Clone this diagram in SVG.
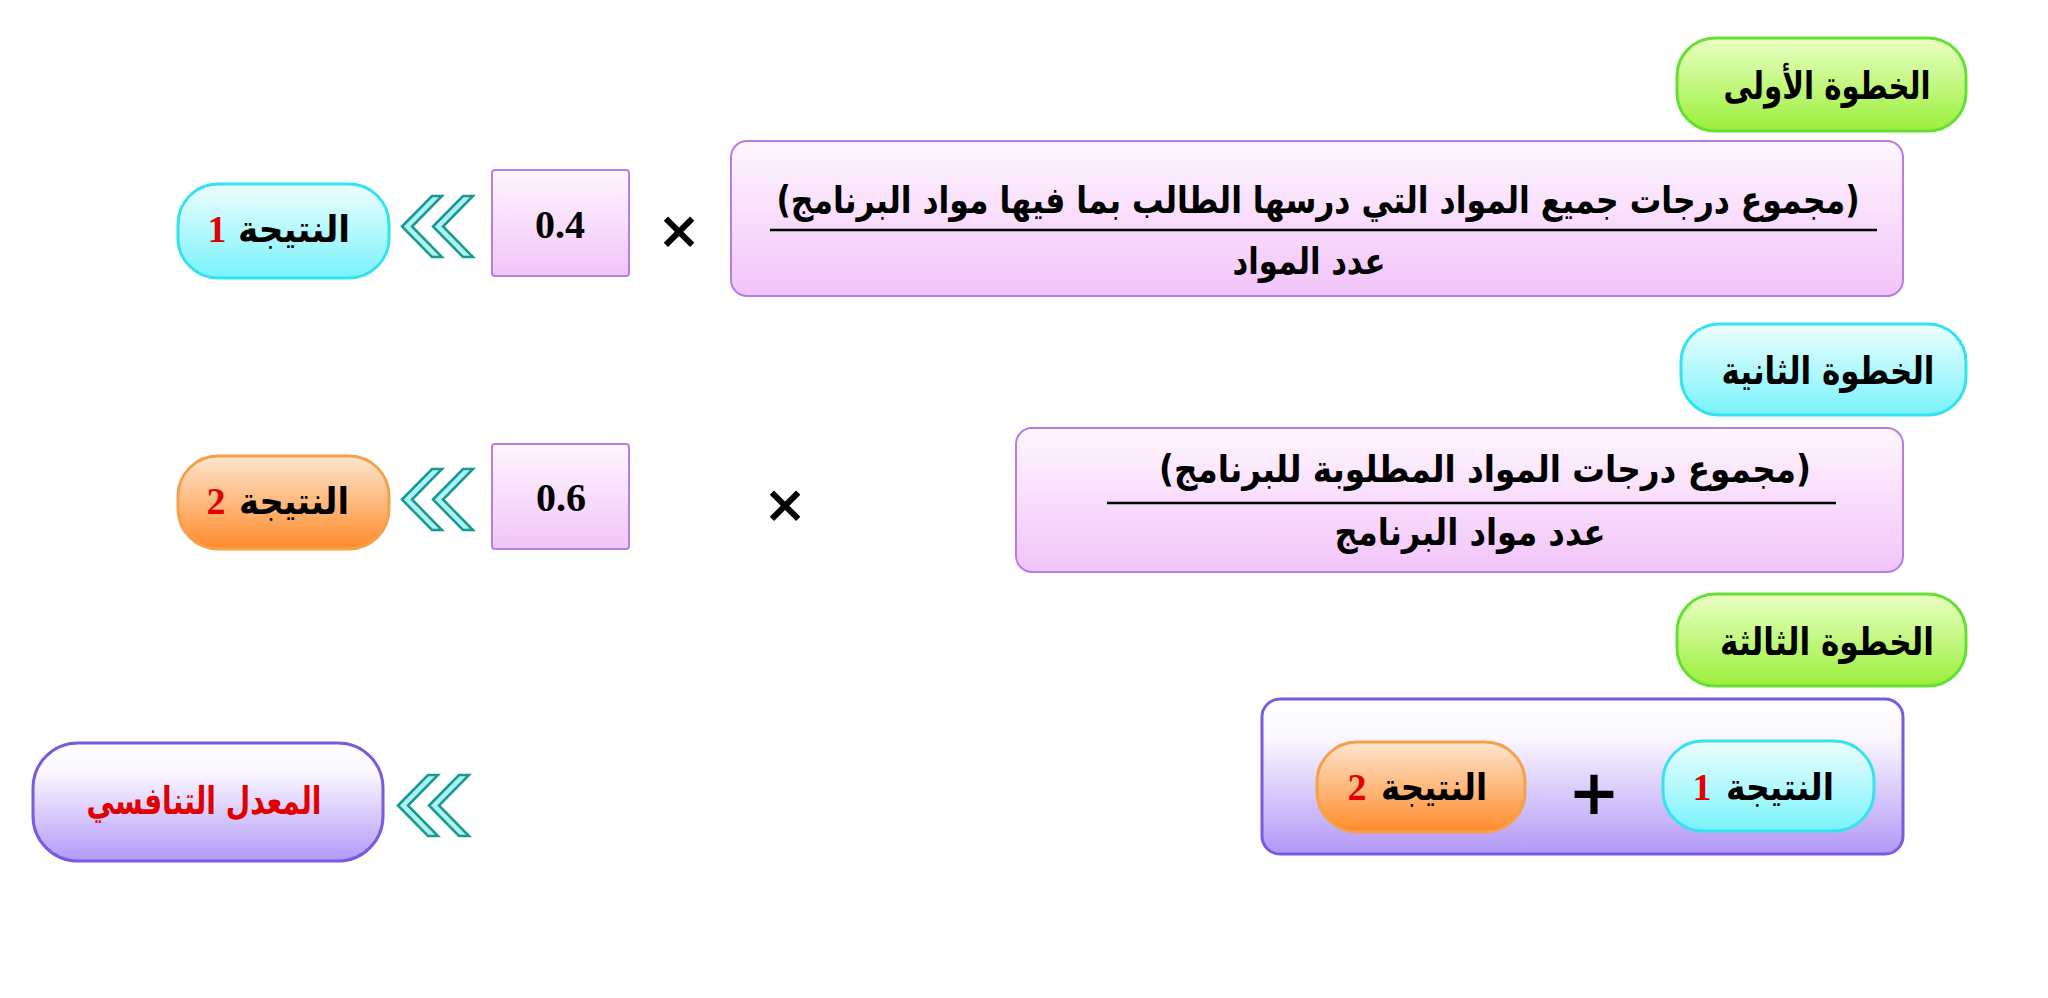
<svg xmlns="http://www.w3.org/2000/svg" width="2048" height="998" viewBox="0 0 2048 998">
<style>
.ar{font-family:"DejaVu Sans",sans-serif;font-weight:bold;fill:#000;direction:rtl;}
.num{font-family:"Liberation Serif",serif;font-weight:bold;}
.red{fill:#e00000;}
.op{font-family:"DejaVu Sans",sans-serif;font-weight:bold;fill:#000;}
.green{fill:url(#gGreen);stroke:#66e033;stroke-width:3;}
.cyan{fill:url(#gCyan);stroke:#33e3f0;stroke-width:3;}
.orange{fill:url(#gOrange);stroke:#f5a04a;stroke-width:3;}
.pink{fill:url(#gPink);stroke:#b47ee6;stroke-width:2;}
.violet{fill:url(#gViolet);stroke:#7a5ae0;stroke-width:3;}
.chev{fill:#aef2f0;stroke:#179a92;stroke-width:2.5;stroke-linejoin:miter;}
</style>
<defs>
<linearGradient id="gGreen" x1="0" y1="0" x2="0" y2="1"><stop offset="0" stop-color="#eaffc4"/><stop offset="1" stop-color="#9bef3c"/></linearGradient>
<linearGradient id="gCyan" x1="0" y1="0" x2="0" y2="1"><stop offset="0" stop-color="#effeff"/><stop offset="1" stop-color="#78f3fb"/></linearGradient>
<linearGradient id="gOrange" x1="0" y1="0" x2="0" y2="1"><stop offset="0" stop-color="#fde6cf"/><stop offset="1" stop-color="#ff8b2a"/></linearGradient>
<linearGradient id="gPink" x1="0" y1="0" x2="0" y2="1"><stop offset="0" stop-color="#fff6ff"/><stop offset="1" stop-color="#f2c4f9"/></linearGradient>
<linearGradient id="gViolet" x1="0" y1="0" x2="0" y2="1"><stop offset="0" stop-color="#ffffff"/><stop offset="0.25" stop-color="#faf7ff"/><stop offset="1" stop-color="#b398f7"/></linearGradient>
<g id="chevrons">
<polygon class="chev" points="0,30.5 30,0 40,0 10,30.5 40,61 30,61"/>
<polygon class="chev" points="31,30.5 61,0 71,0 41,30.5 71,61 61,61"/>
</g>
</defs>
<rect width="2048" height="998" fill="#ffffff"/>

<g id="connectors">
<use href="#chevrons" x="402" y="196"/>
<use href="#chevrons" x="402" y="469"/>
<use href="#chevrons" x="398" y="775"/>
</g>

<g id="step1">
<rect class="green" x="1677" y="38" width="289" height="93" rx="38"/>
<text class="ar" x="1827" y="99" font-size="38" text-anchor="middle" textLength="207" lengthAdjust="spacingAndGlyphs">الخطوة الأولى</text>
</g>

<g id="formula1">
<rect class="pink" x="731" y="141" width="1172" height="155" rx="16"/>
<text class="ar" x="1318" y="213" font-size="37" text-anchor="middle" textLength="1083" lengthAdjust="spacingAndGlyphs">(مجموع درجات جميع المواد التي درسها الطالب بما فيها مواد البرنامج)</text>
<line x1="770" y1="230" x2="1877" y2="230" stroke="#000" stroke-width="2.5"/>
<text class="ar" x="1309" y="274" font-size="37" text-anchor="middle" textLength="153" lengthAdjust="spacingAndGlyphs">عدد المواد</text>
</g>

<g id="times1">
<text class="op" x="679" y="248" font-size="52" text-anchor="middle">×</text>
</g>

<g id="factor1">
<rect class="pink" x="492" y="170" width="137" height="106" rx="3"/>
<text class="num" x="560" y="238" font-size="40" text-anchor="middle">0.4</text>
</g>

<g id="result1">
<rect class="cyan" x="178" y="184" width="211" height="94" rx="40"/>
<text class="ar" x="294" y="242" font-size="37" text-anchor="middle" textLength="112" lengthAdjust="spacingAndGlyphs">النتيجة</text>
<text class="num red" x="217" y="242" font-size="38" text-anchor="middle">1</text>
</g>

<g id="step2">
<rect class="cyan" x="1681" y="324" width="285" height="91" rx="38"/>
<text class="ar" x="1828" y="384" font-size="38" text-anchor="middle" textLength="213" lengthAdjust="spacingAndGlyphs">الخطوة الثانية</text>
</g>

<g id="formula2">
<rect class="pink" x="1016" y="428" width="887" height="144" rx="16"/>
<text class="ar" x="1485" y="482" font-size="37" text-anchor="middle" textLength="652" lengthAdjust="spacingAndGlyphs">(مجموع درجات المواد المطلوبة للبرنامج)</text>
<line x1="1107" y1="503" x2="1836" y2="503" stroke="#000" stroke-width="2.5"/>
<text class="ar" x="1470" y="545" font-size="37" text-anchor="middle" textLength="271" lengthAdjust="spacingAndGlyphs">عدد مواد البرنامج</text>
</g>

<g id="times2">
<text class="op" x="785" y="522" font-size="52" text-anchor="middle">×</text>
</g>

<g id="factor2">
<rect class="pink" x="492" y="444" width="137" height="105" rx="3"/>
<text class="num" x="561" y="511" font-size="40" text-anchor="middle">0.6</text>
</g>

<g id="result2">
<rect class="orange" x="178" y="456" width="211" height="93" rx="40"/>
<text class="ar" x="294" y="514" font-size="37" text-anchor="middle" textLength="110" lengthAdjust="spacingAndGlyphs">النتيجة</text>
<text class="num red" x="216" y="514" font-size="38" text-anchor="middle">2</text>
</g>

<g id="step3">
<rect class="green" x="1677" y="594" width="289" height="92" rx="38"/>
<text class="ar" x="1827" y="655" font-size="38" text-anchor="middle" textLength="214" lengthAdjust="spacingAndGlyphs">الخطوة الثالثة</text>
</g>

<g id="sum">
<rect class="violet" x="1262" y="699" width="641" height="155" rx="18"/>
<g id="sum-result1">
<rect class="cyan" x="1663" y="741" width="211" height="90" rx="40"/>
<text class="ar" x="1780" y="800" font-size="37" text-anchor="middle" textLength="108" lengthAdjust="spacingAndGlyphs">النتيجة</text>
<text class="num red" x="1702" y="800" font-size="38" text-anchor="middle">1</text>
</g>
<text class="op" x="1594" y="814" font-size="62" text-anchor="middle">+</text>
<g id="sum-result2">
<rect class="orange" x="1317" y="742" width="208" height="90" rx="40"/>
<text class="ar" x="1434" y="800" font-size="37" text-anchor="middle" textLength="106" lengthAdjust="spacingAndGlyphs">النتيجة</text>
<text class="num red" x="1357" y="800" font-size="38" text-anchor="middle">2</text>
</g>
</g>

<g id="final">
<rect class="violet" x="33" y="743" width="350" height="118" rx="45"/>
<text class="ar red" x="204" y="814" font-size="38" text-anchor="middle" textLength="235" lengthAdjust="spacingAndGlyphs">المعدل التنافسي</text>
</g>
</svg>
